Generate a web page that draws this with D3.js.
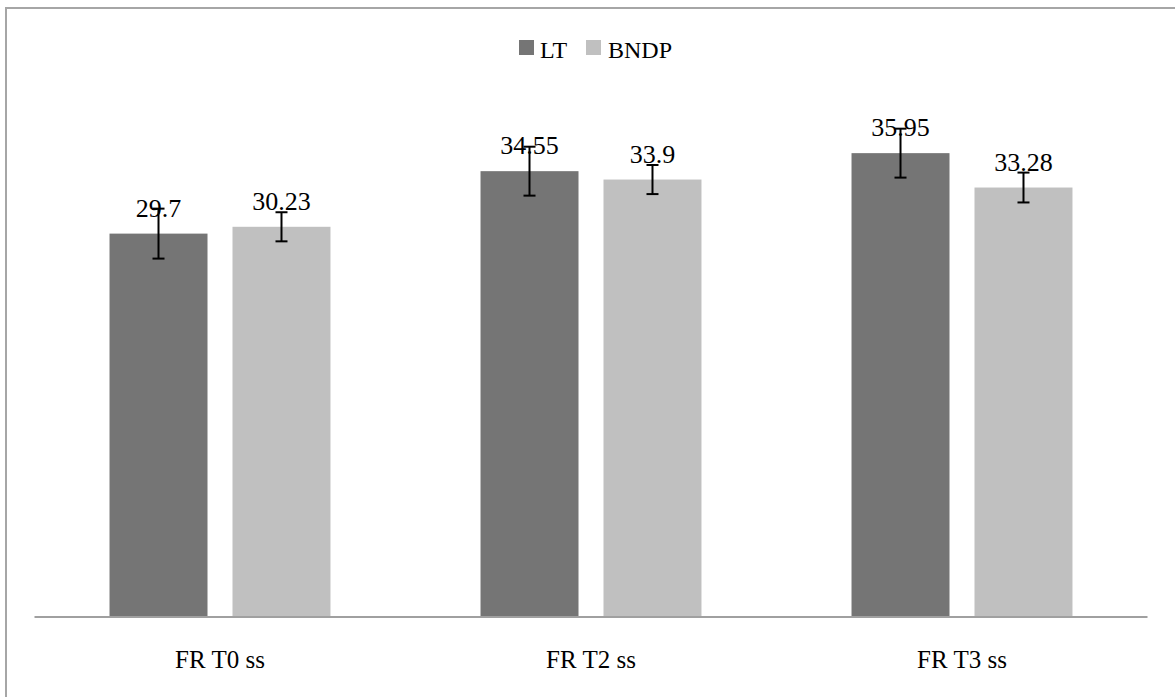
<!DOCTYPE html>
<html><head><meta charset="utf-8">
<script src="https://cdn.jsdelivr.net/npm/d3@7"></script>
<style>html,body{margin:0;padding:0;background:#fff;} svg{display:block;}</style>
</head><body>
<svg id="chart" width="1175" height="697"></svg>
<script>
const categories = ["FR T0 ss", "FR T2 ss", "FR T3 ss"];
const seriesNames = ["LT", "BNDP"];
const ltValues = [29.7, 34.55, 35.95];
const bndpValues = [30.23, 33.9, 33.28];
const ltErrors = [1.94, 1.9, 1.9];
const bndpErrors = [1.13, 1.13, 1.16];
const seriesColors = ["#757575", "#c0c0c0"];

const svg = d3.select("#chart");
const W = 1175, H = 697;
const font = "'Liberation Serif', 'Times New Roman', serif";

// frame (top and left visible)
svg.append("line").attr("x1", 6).attr("x2", W).attr("y1", 8).attr("y2", 8).attr("stroke", "#a6a6a6").attr("stroke-width", 2);
svg.append("line").attr("x1", 6).attr("x2", 6).attr("y1", 7).attr("y2", H).attr("stroke", "#a6a6a6").attr("stroke-width", 2);

const x0 = d3.scaleBand().domain(categories).range([34.5, 1147.5]).paddingInner(0).paddingOuter(0);
const x1 = d3.scaleBand().domain(seriesNames).range([0, x0.bandwidth()]).paddingInner(0.2033).paddingOuter(0.61);
const y = d3.scaleLinear().domain([0, 40]).range([616, 101]);

const data = categories.map((c, i) => ({
  cat: c,
  vals: [
    {s: "LT", v: ltValues[i], e: ltErrors[i], color: seriesColors[0]},
    {s: "BNDP", v: bndpValues[i], e: bndpErrors[i], color: seriesColors[1]}
  ]
}));

const g = svg.append("g");
const groups = g.selectAll("g.grp").data(data).join("g")
  .attr("transform", d => `translate(${x0(d.cat)},0)`);

groups.selectAll("rect").data(d => d.vals).join("rect")
  .attr("x", d => x1(d.s)).attr("width", x1.bandwidth())
  .attr("y", d => y(d.v)).attr("height", d => y(0) - y(d.v))
  .attr("fill", d => d.color);

// axis line
svg.append("line").attr("x1", 34.5).attr("x2", 1147.5).attr("y1", 617).attr("y2", 617)
  .attr("stroke", "#a0a0a0").attr("stroke-width", 2);

// labels
groups.selectAll("text.lbl").data(d => d.vals).join("text")
  .attr("class", "lbl")
  .attr("x", d => x1(d.s) + x1.bandwidth() / 2)
  .attr("y", d => y(d.v) - 17)
  .attr("text-anchor", "middle")
  .attr("font-family", font).attr("font-size", 26).attr("fill", "#000")
  .text(d => d.v);

// error bars
const eb = groups.selectAll("g.eb").data(d => d.vals).join("g").attr("class", "eb")
  .attr("stroke", "#000").attr("stroke-width", 2);
eb.append("line")
  .attr("x1", d => x1(d.s) + x1.bandwidth() / 2).attr("x2", d => x1(d.s) + x1.bandwidth() / 2)
  .attr("y1", d => y(d.v + d.e)).attr("y2", d => y(d.v - d.e));
eb.append("line")
  .attr("x1", d => x1(d.s) + x1.bandwidth() / 2 - 6).attr("x2", d => x1(d.s) + x1.bandwidth() / 2 + 6)
  .attr("y1", d => y(d.v + d.e)).attr("y2", d => y(d.v + d.e));
eb.append("line")
  .attr("x1", d => x1(d.s) + x1.bandwidth() / 2 - 6).attr("x2", d => x1(d.s) + x1.bandwidth() / 2 + 6)
  .attr("y1", d => y(d.v - d.e)).attr("y2", d => y(d.v - d.e));

// category labels
svg.selectAll("text.cat").data(categories).join("text")
  .attr("class", "cat")
  .attr("x", d => x0(d) + x0.bandwidth() / 2).attr("y", 668)
  .attr("text-anchor", "middle")
  .attr("font-family", font).attr("font-size", 25).attr("fill", "#000")
  .text(d => d);

// legend
const legendX = [519, 586];
const lg = svg.selectAll("g.leg").data(seriesNames).join("g").attr("class", "leg")
  .attr("transform", (d, i) => `translate(${legendX[i]},40)`);
lg.append("rect").attr("width", 15).attr("height", 15).attr("fill", (d, i) => seriesColors[i]);
lg.append("text").attr("x", (d, i) => i === 0 ? 21 : 22).attr("y", 18)
  .attr("font-family", font).attr("font-size", 24).attr("fill", "#000").text(d => d);
</script>
</body></html>
